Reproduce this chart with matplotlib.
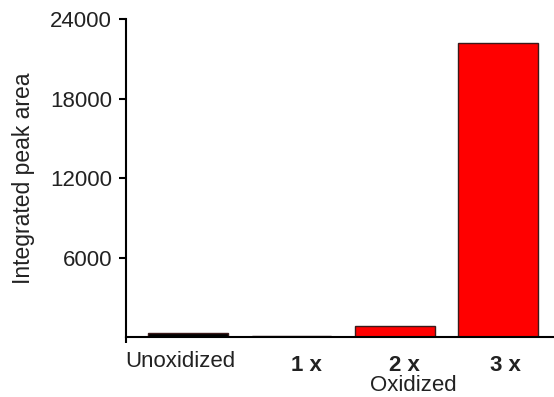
import matplotlib
matplotlib.use("Agg")
from matplotlib import pyplot as plt

plt.rcParams['font.family'] = ['Liberation Sans', 'DejaVu Sans']

categories = ["Unoxidized", "1 x", "2 x", "3 x"]
values = [300, 60, 830, 22200]
bar_colors = ["black", "red", "red", "red"]
y_ticks = [6000, 12000, 18000, 24000]

# label placement (x in data units, y in axes fraction, baseline)
label_x = [-0.073, 1.141, 2.098, 3.075]
label_y = [-0.094, -0.106, -0.106, -0.106]
label_weight = ["normal", "bold", "bold", "bold"]

fig = plt.figure(figsize=(5.54, 3.97), dpi=100)
ax = fig.add_axes([0.2274, 0.151, 0.7726, 0.801])

pos = list(range(len(categories)))
ax.bar(pos, values, width=0.77, color=bar_colors, edgecolor="#3a1a1a", linewidth=1.0)

ax.set_xlim(-0.6, 3.54)
ax.set_ylim(0, 24000)
ax.set_yticks(y_ticks)
ax.set_yticklabels([str(t) for t in y_ticks], fontsize=16, color="#222222")
ax.set_xticks([])
ax.set_xticks([-0.6], minor=True)
ax.tick_params(axis="x", which="minor", length=4, width=1.5, direction="out")
ax.tick_params(axis="y", length=5, width=1.5, direction="out", pad=5)

ax.spines["top"].set_visible(False)
ax.spines["right"].set_visible(False)
ax.spines["left"].set_linewidth(1.5)
ax.spines["bottom"].set_linewidth(1.5)

trans = ax.get_xaxis_transform()
for name, x, y, w in zip(categories, label_x, label_y, label_weight):
    ax.text(x, y, name, transform=trans, ha="center", va="baseline",
            fontsize=16, fontweight=w, color="#222222", clip_on=False)
ax.text(2.176, -0.170, "Oxidized", transform=trans, ha="center", va="baseline",
        fontsize=16, color="#222222", clip_on=False)

ax.set_ylabel("Integrated peak area", fontsize=16.5, color="#222222", labelpad=11)

fig.savefig("out.png", dpi=100)
